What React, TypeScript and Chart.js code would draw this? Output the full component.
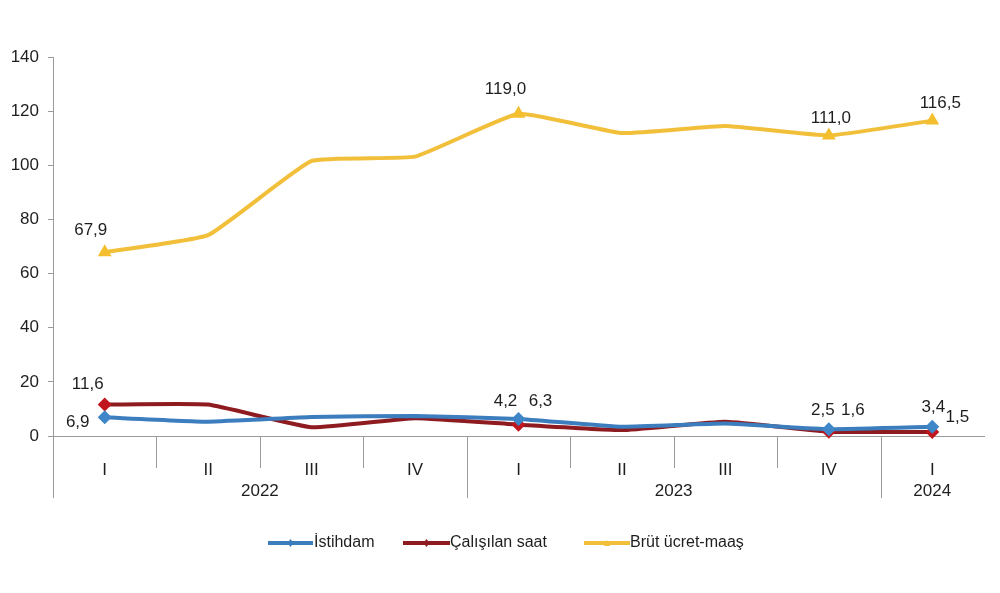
import React, { useEffect, useRef } from "react";
import { Chart, registerables } from "chart.js";

Chart.register(...registerables);

const quarters = ["I", "II", "III", "IV", "I", "II", "III", "IV", "I"];
const years = ["2022", "2023", "2024"];
const yearSpans = [4, 4, 1];

const istihdam = [6.9, 5.3, 7.0, 7.4, 6.3, 3.4, 4.6, 2.5, 3.4];
const calisilanSaat = [11.6, 11.6, 3.2, 6.6, 4.2, 2.2, 5.3, 1.6, 1.5];
const brutUcret = [67.9, 74.2, 101.6, 103.2, 119.0, 111.9, 114.5, 111.0, 116.5];

const labeledIdx = [0, 4, 7, 8];

const seriesNames = ["İstihdam", "Çalışılan saat", "Brüt ücret-maaş"];
const lineColors = ["#3b7dbd", "#8e1b1f", "#f2bf3a"];
const markerColors = ["#3f86c8", "#c0161d", "#f4bf2e"];

// label offsets [dx, dy] per labeled point, per series
const labelOffsets: Record<number, [number, number]>[] = [
  { 0: [-27, 5], 4: [22, -18], 7: [-6, -19], 8: [1, -19] },
  { 0: [-17, -20], 4: [-13, -23], 7: [24, -21], 8: [25, -15] },
  { 0: [-14, -22], 4: [-13, -25], 7: [2, -17], 8: [8, -17] },
];

const FONT = 'Arial, "Liberation Sans", sans-serif';

const fmt = (v: number) => v.toFixed(1).replace(".", ",");

export default function App() {
  const ref = useRef<HTMLCanvasElement | null>(null);

  useEffect(() => {
    document.body.style.margin = "0";
    const canvas = ref.current;
    if (!canvas) return;

    const overlay = {
      id: "overlay",
      afterDraw(chart: any) {
        const ctx = chart.ctx;
        const x = chart.scales.x;
        const area = chart.chartArea;
        const step = x.getPixelForValue(1) - x.getPixelForValue(0);
        const axisY = area.bottom;
        ctx.save();
        // dividers
        ctx.strokeStyle = "#9a9a9a";
        ctx.lineWidth = 1;
        const boundaries = new Set<number>();
        let acc = 0;
        yearSpans.forEach((s) => {
          acc += s;
          boundaries.add(acc);
        });
        for (let i = 0; i < quarters.length; i++) {
          const px = Math.round(x.getPixelForValue(i) - step / 2) + 0.5;
          const isYear = i === 0 || boundaries.has(i);
          ctx.beginPath();
          ctx.moveTo(px, axisY);
          ctx.lineTo(px, isYear ? axisY + 62 : axisY + 32);
          ctx.stroke();
        }
        // year labels
        ctx.fillStyle = "#1e1e1e";
        ctx.font = `17px ${FONT}`;
        ctx.textAlign = "center";
        ctx.textBaseline = "middle";
        let start = 0;
        years.forEach((yr, k) => {
          const end = start + yearSpans[k] - 1;
          const cx = (x.getPixelForValue(start) + x.getPixelForValue(end)) / 2;
          ctx.fillText(yr, cx, axisY + 55);
          start = end + 1;
        });
        // data labels
        chart.data.datasets.forEach((ds: any, si: number) => {
          const meta = chart.getDatasetMeta(si);
          labeledIdx.forEach((i) => {
            const pt = meta.data[i];
            const off = labelOffsets[si][i];
            ctx.fillText(fmt(ds.data[i]), pt.x + off[0], pt.y + off[1]);
          });
        });
        // legend
        const legendY = 543;
        const items = [
          { x0: 268, x1: 313, tx: 314 },
          { x0: 403, x1: 450, tx: 450 },
          { x0: 584, x1: 630, tx: 630 },
        ];
        ctx.textAlign = "left";
        ctx.font = `16px ${FONT}`;
        items.forEach((it, k) => {
          ctx.strokeStyle = lineColors[k];
          ctx.lineWidth = 4;
          ctx.beginPath();
          ctx.moveTo(it.x0, legendY);
          ctx.lineTo(it.x1, legendY);
          ctx.stroke();
          const mx = (it.x0 + it.x1) / 2;
          ctx.fillStyle = lineColors[k];
          ctx.beginPath();
          if (k === 2) {
            ctx.moveTo(mx, legendY - 3);
            ctx.lineTo(mx + 3, legendY + 3);
            ctx.lineTo(mx - 3, legendY + 3);
          } else {
            ctx.moveTo(mx, legendY - 4);
            ctx.lineTo(mx + 3, legendY);
            ctx.lineTo(mx, legendY + 4);
            ctx.lineTo(mx - 3, legendY);
          }
          ctx.closePath();
          ctx.fill();
          ctx.fillStyle = "#1e1e1e";
          ctx.fillText(seriesNames[k], it.tx, legendY);
        });
        ctx.restore();
      },
    };

    const styles = ["rectRot", "rectRot", "triangle"];
    const radii = [7, 7, 8];
    const mkRadius = (r: number) => quarters.map((_, i) => (labeledIdx.includes(i) ? r : 0));

    const chart = new Chart(canvas, {
      type: "line",
      data: {
        labels: quarters,
        datasets: [istihdam, calisilanSaat, brutUcret].map((d, k) => ({
          label: seriesNames[k],
          data: d,
          borderColor: lineColors[k],
          backgroundColor: markerColors[k],
          borderWidth: 4,
          pointStyle: styles[k] as any,
          pointRadius: mkRadius(radii[k]),
          pointBorderWidth: 0,
          pointBackgroundColor: markerColors[k],
          pointHoverRadius: 0,
          tension: 0.12,
          clip: false as any,
        })),
      },
      options: {
        responsive: false,
        animation: false,
        events: [],
        layout: { padding: { top: 57, right: 16, bottom: 93, left: 0 } },
        plugins: { legend: { display: false }, tooltip: { enabled: false } },
        scales: {
          x: {
            offset: true,
            grid: { display: false },
            border: { display: true, color: "#9a9a9a", width: 1 },
            ticks: {
              color: "#1e1e1e",
              font: { size: 17, family: FONT },
              padding: 16,
              maxRotation: 0,
              autoSkip: false,
            },
            afterFit(scale: any) {
              scale.height = 64;
            },
          },
          y: {
            min: 0,
            max: 140,
            grid: { drawOnChartArea: false, tickLength: 5, color: "#9a9a9a" },
            border: { display: true, color: "#9a9a9a", width: 1 },
            ticks: {
              stepSize: 20,
              color: "#1e1e1e",
              font: { size: 17, family: FONT },
              padding: 9,
            },
            afterFit(scale: any) {
              scale.width = 53;
            },
          },
        },
      },
      plugins: [overlay],
    });

    return () => chart.destroy();
  }, []);

  return (
    <div style={{ width: 1000, height: 593, background: "#fff" }}>
      <canvas ref={ref} width={1000} height={593} style={{ display: "block" }} />
    </div>
  );
}
